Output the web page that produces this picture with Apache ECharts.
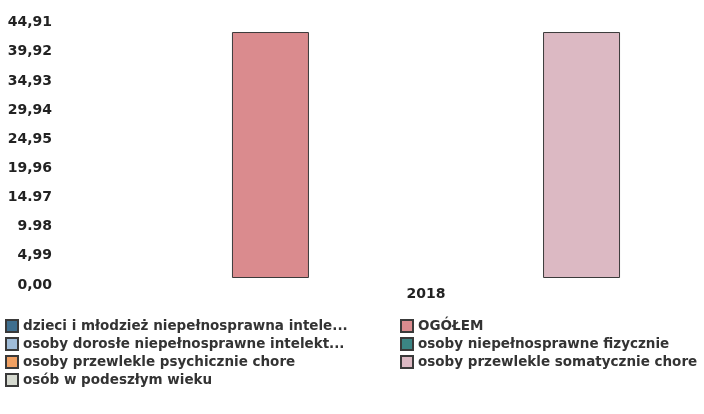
<!DOCTYPE html>
<html><head><meta charset="utf-8">
<script src="https://cdn.jsdelivr.net/npm/echarts@6/dist/echarts.min.js"></script>
<style>html,body{margin:0;padding:0;background:#fff}#c{width:704px;height:414px}</style>
</head><body><div id="c"></div>
<script>
const categories = ['2018'];
const seriesNames = [
  'dzieci i młodzież niepełnosprawna intelektualnie',
  'OGÓŁEM',
  'osoby dorosłe niepełnosprawne intelektualnie',
  'osoby niepełnosprawne fizycznie',
  'osoby przewlekle psychicznie chore',
  'osoby przewlekle somatycznie chore',
  'osób w podeszłym wieku'
];
const legendLabels = [
  'dzieci i młodzież niepełnosprawna intele...',
  'OGÓŁEM',
  'osoby dorosłe niepełnosprawne intelekt...',
  'osoby niepełnosprawne fizycznie',
  'osoby przewlekle psychicznie chore',
  'osoby przewlekle somatycznie chore',
  'osób w podeszłym wieku'
];
const seriesValues = [
  [null],
  [42.1],
  [null],
  [null],
  [null],
  [42.1],
  [null]
];
const seriesColors = ['#3f6f8f', '#da8b8e', '#9fbcd8', '#3b8584', '#f0a062', '#dcb9c3', '#d6dad0'];
const yTickLabels = ['0,00', '4,99', '9.98', '14.97', '19,96', '24,95', '29,94', '34,93', '39,92', '44,91'];
const yMax = 44.91;
const yStep = 4.99;

const chart = echarts.init(document.getElementById('c'));
const font = 'DejaVu Sans';
const legendText = { fontFamily: font, fontSize: 13.5, fontWeight: 'bold', color: '#333' };
const legendFormatter = (name) => legendLabels[seriesNames.indexOf(name)];
chart.setOption({
  animation: false,
  backgroundColor: '#fff',
  grid: { left: 148, top: 15.6, bottom: 136, right: 0 },
  xAxis: {
    type: 'category', data: categories,
    axisLine: { show: false }, axisTick: { show: false },
    axisLabel: { fontFamily: font, fontWeight: 'bold', fontSize: 14, color: '#222', margin: 9 }
  },
  yAxis: {
    type: 'value', min: 0, max: yMax, interval: yStep, offset: 88,
    splitLine: { show: false }, axisLine: { show: false }, axisTick: { show: false },
    axisLabel: {
      fontFamily: font, fontWeight: 'bold', fontSize: 14, color: '#222', margin: 8,
      verticalAlign: 'top',
      formatter: (v) => yTickLabels[Math.round(v / yStep)]
    }
  },
  legend: [
    {
      orient: 'vertical', left: 0, top: 314, itemWidth: 12, itemHeight: 12, itemGap: 4, icon: 'rect',
      data: [seriesNames[0], seriesNames[2], seriesNames[4], seriesNames[6]],
      formatter: legendFormatter, textStyle: legendText
    },
    {
      orient: 'vertical', left: 395, top: 314, itemWidth: 12, itemHeight: 12, itemGap: 4, icon: 'rect',
      data: [seriesNames[1], seriesNames[3], seriesNames[5]],
      formatter: legendFormatter, textStyle: legendText
    }
  ],
  series: seriesNames.map((n, i) => ({
    name: n, type: 'bar', data: seriesValues[i], barWidth: 77, barGap: '1%',
    itemStyle: { color: seriesColors[i], borderColor: '#3a3a3a', borderWidth: 1 }
  }))
});
</script></body></html>
